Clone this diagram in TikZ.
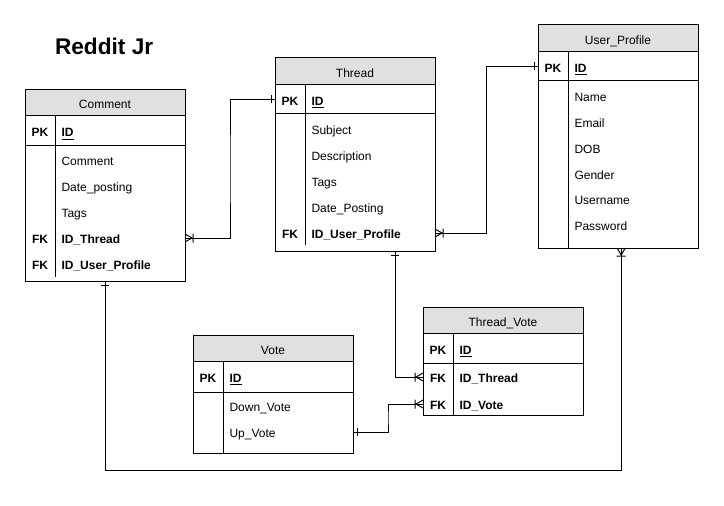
\documentclass[tikz,border=0pt]{standalone}
\usepackage{fontspec}
\setmainfont{Liberation Sans}
\usetikzlibrary{calc,decorations.markings}
\definecolor{hdrgray}{RGB}{224,224,224}
\newcommand\tfont{\fontsize{9}{11}\selectfont}
\begin{document}
\begin{tikzpicture}[x=0.75pt,y=-0.75pt,
  every node/.style={inner sep=0pt, outer sep=0pt},
  ln/.style={line width=0.75pt, draw=black},
  tframe/.style={draw, ln, anchor=north west, minimum width=120pt, minimum height=#1},
  thead/.style={draw, ln, fill=hdrgray, anchor=north west, minimum width=120pt, minimum height=#1, font=\tfont, text height=9pt, text depth=0pt},
  pksec/.style={draw, ln, anchor=north west, minimum width=120pt, minimum height=#1},
  key/.style={font=\tfont\bfseries, text height=9pt, text depth=0pt},
  fld/.style={anchor=west, font=\tfont, text height=8.6pt, text depth=0pt},
  fldb/.style={fld, font=\tfont\bfseries},
  onestart/.style={postaction={decorate,decoration={markings,mark=at position 3pt with {\draw[ln] (0,-4)--(0,4);}}}},
  manyend/.style={postaction={decorate,decoration={markings,mark=at position 1 with {\draw[ln] (-7,0)--(0,4) (-7,0)--(0,-4) (-8,-4.5)--(-8,4.5);}}}}
]
\useasboundingbox (0,0) rectangle (724,506);

\node[anchor=base west, font=\fontsize{17}{20}\selectfont\bfseries] (title) at (55,55) {Reddit Jr};

% Comment
\node[tframe=143.25pt] (cm) at (25,90) {};
\node[thead=19.5pt] (cmh) at (25,90) {Comment};
\node[pksec=22.5pt] (cmp) at (25,116) {};
\draw[ln] (55,116) -- (55,277);
\node[key] (cmk0) at (40,131) {PK};
\node[fldb, text height=9pt] (cmf0) at (61.5,131) {\underline{ID}};
\node[fld] (cmf1) at (61.5,160) {Comment};
\node[fld] (cmf2) at (61.5,186) {Date\_posting};
\node[fld] (cmf3) at (61.5,212) {Tags};
\node[key, text height=8.6pt] (cmk4) at (40,238) {FK};
\node[fldb] (cmf4) at (61.5,238) {ID\_Thread};
\node[key, text height=8.6pt] (cmk5) at (40,264) {FK};
\node[fldb] (cmf5) at (61.5,264) {ID\_User\_Profile};

% Thread
\node[tframe=144.75pt] (th) at (275,58) {};
\node[thead=20.25pt] (thh) at (275,58) {Thread};
\node[pksec=21.75pt] (thp) at (275,85) {};
\draw[ln] (305,85) -- (305,245);
\node[key] (thk0) at (290,99.5) {PK};
\node[fldb, text height=9pt] (thf0) at (311.5,99.5) {\underline{ID}};
\node[fld] (thf1) at (311.5,129) {Subject};
\node[fld] (thf2) at (311.5,155) {Description};
\node[fld] (thf3) at (311.5,181) {Tags};
\node[fld] (thf4) at (311.5,207) {Date\_Posting};
\node[key, text height=8.6pt] (thk5) at (290,233) {FK};
\node[fldb] (thf5) at (311.5,233) {ID\_User\_Profile};

% User_Profile
\node[tframe=167.25pt] (up) at (538,25) {};
\node[thead=20.25pt] (uph) at (538,25) {User\_Profile};
\node[pksec=21.75pt] (upp) at (538,52) {};
\draw[ln] (568,52) -- (568,248);
\node[key] (upk0) at (553,66.5) {PK};
\node[fldb, text height=9pt] (upf0) at (574.5,66.5) {\underline{ID}};
\node[fld] (upf1) at (574.5,96) {Name};
\node[fld] (upf2) at (574.5,122) {Email};
\node[fld] (upf3) at (574.5,148) {DOB};
\node[fld] (upf4) at (574.5,174) {Gender};
\node[fld] (upf5) at (574.5,199) {Username};
\node[fld] (upf6) at (574.5,225) {Password};

% Thread_Vote
\node[tframe=81pt] (tv) at (423,307) {};
\node[thead=19.5pt] (tvh) at (423,307) {Thread\_Vote};
\node[pksec=22.5pt] (tvp) at (423,333) {};
\draw[ln] (453,333) -- (453,415);
\node[key] (tvk0) at (438,348) {PK};
\node[fldb, text height=9pt] (tvf0) at (459.5,348) {\underline{ID}};
\node[key, text height=8.6pt] (tvk1) at (438,377) {FK};
\node[fldb] (tvf1) at (459.5,377) {ID\_Thread};
\node[key, text height=8.6pt] (tvk2) at (438,404) {FK};
\node[fldb] (tvf2) at (459.5,404) {ID\_Vote};

% Vote
\node[tframe=88.5pt] (vo) at (193,335) {};
\node[thead=19.5pt] (voh) at (193,335) {Vote};
\node[pksec=23.25pt] (vop) at (193,361) {};
\draw[ln] (223,361) -- (223,453);
\node[key] (vok0) at (208,376.5) {PK};
\node[fldb, text height=9pt] (vof0) at (229.5,376.5) {\underline{ID}};
\node[fld] (vof1) at (229.5,406) {Down\_Vote};
\node[fld] (vof2) at (229.5,432) {Up\_Vote};

% Connectors
\draw[ln, onestart, manyend] (thf0 -| th.west) -| ($(thf0 -| th.west)!0.5!(cmf4 -| cm.east)$) |- (cmf4 -| cm.east);
\draw[ln, onestart, manyend] (upf0 -| up.west) -| ($(upf0 -| up.west)!0.5!(thf5 -| th.east)$) |- (thf5 -| th.east);
\draw[ln, onestart, manyend] ($(th.south west)!0.75!(th.south east)$) |- (tvf1 -| tv.west);
\draw[ln, onestart, manyend] (vof2 -| vo.east) -| ($(vof2 -| vo.east)!0.5!(tvf2 -| tv.west)$) |- (tvf2 -| tv.west);
\draw[ln, onestart, manyend] (cm.south) -- ++(0,189) -| ($(up.south west)!0.52!(up.south east)$);
\end{tikzpicture}
\end{document}
